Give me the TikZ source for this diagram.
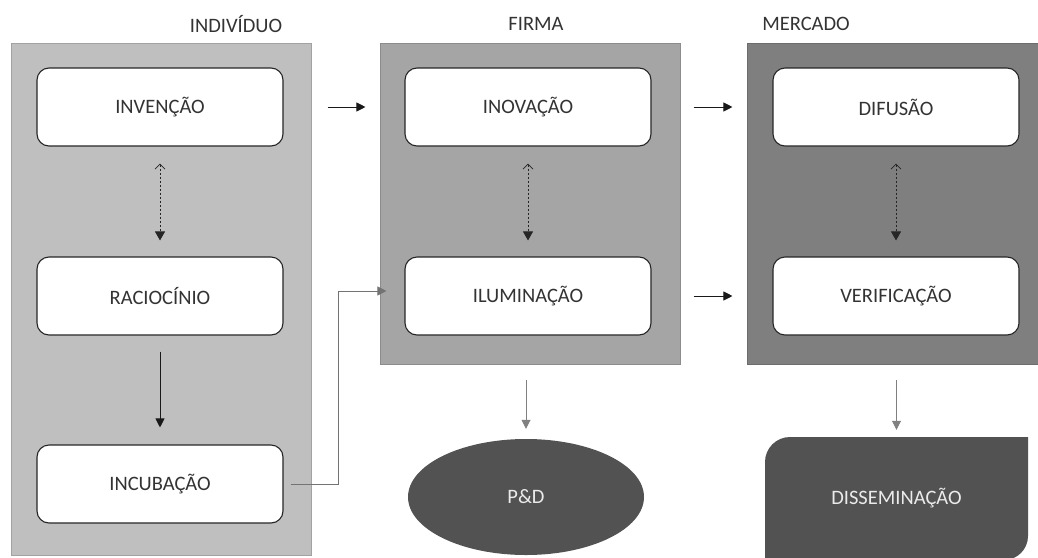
\documentclass[tikz,border=0pt]{standalone}
\usepackage{fontspec}
\setmainfont{Carlito}
\usetikzlibrary{arrows.meta,shapes.geometric,calc}
\definecolor{indcol}{HTML}{BFBFBF}
\definecolor{fircol}{HTML}{A5A5A5}
\definecolor{mercol}{HTML}{7F7F7F}
\definecolor{darkcol}{HTML}{525252}
\definecolor{txtcol}{HTML}{333333}
\newcommand\boxfont{\fontsize{20.5}{24}\selectfont}
\begin{document}
\begin{tikzpicture}[x=1pt,y=-1pt,
  panel/.style={draw=#1!85!black, line width=0.6pt, fill=#1, inner sep=0pt},
  stagebox/.style={draw=black!85, line width=1.1pt, fill=white, rounded corners=12pt,
    minimum width=246pt, minimum height=78pt, inner sep=0pt, text=txtcol, font=\boxfont},
  title/.style={text=txtcol, font=\boxfont, inner sep=0pt},
  darktext/.style={text=black!8, font=\boxfont, inner sep=0pt},
  arr/.style={-{Triangle[length=9pt,width=9pt]}, line width=0.9pt, draw=black!90},
  grayarr/.style={-{Triangle[length=9pt,width=9pt]}, line width=0.8pt, draw=black!50},
  dotarr/.style={{Straight Barb[length=5pt,width=10pt]}-{Triangle[length=9pt,width=10pt]},
    dash pattern=on 2pt off 2pt, line width=0.8pt, draw=black!85}
]
\useasboundingbox (0,0) rectangle (1038,557);
% panels
\node[panel=indcol, minimum width=300pt, minimum height=512pt] (pind) at (161,299) {};
\node[panel=fircol, minimum width=300pt, minimum height=321pt] (pfir) at (530,203.5) {};
\node[panel=mercol, minimum width=295pt, minimum height=321pt] (pmer) at (894.5,203.5) {};
% titles
\node[title] (tind) at (236,24) {INDIVÍDUO};
\node[title] (tfir) at (536,24) {FIRMA};
\node[title] (tmer) at (806,24) {MERCADO};
% stage boxes
\node[stagebox] (inv) at (160,107) {INVENÇÃO};
\node[stagebox] (rac) at (160,296) {RACIOCÍNIO};
\node[stagebox] (inc) at (160,484) {INCUBAÇÃO};
\node[stagebox] (inov) at (528,107) {INOVAÇÃO};
\node[stagebox] (ilum) at (528,296) {ILUMINAÇÃO};
\node[stagebox] (dif) at (896,107) {DIFUSÃO};
\node[stagebox] (ver) at (896,296) {VERIFICAÇÃO};
% outputs
\node[ellipse, fill=darkcol, minimum width=236pt, minimum height=116pt, inner sep=0pt,
  darktext] (pd) at (526,497) {P\&D};
\fill[darkcol] (765,562) -- (765,462) .. controls (765,448.2) and (776.2,437) .. (790,437)
  -- (1028,437) -- (1028,536) .. controls (1028,549.3) and (1017.3,560) .. (1004,560)
  -- (1004,562) -- cycle;
\node[darktext, minimum width=263pt, minimum height=123pt] (dis) at (896.5,498.5) {DISSEMINAÇÃO};
% connectors
\draw[arr, shorten <=44pt, shorten >=39pt] (inv) -- (inov);
\draw[arr, shorten <=42pt, shorten >=40pt] (inov) -- (dif);
\draw[arr, shorten <=42pt, shorten >=40pt] (ilum) -- (ver);
\draw[dotarr, shorten <=17pt, shorten >=16pt] (inv) -- (rac);
\draw[dotarr, shorten <=17pt, shorten >=16pt] (inov) -- (ilum);
\draw[dotarr, shorten <=17pt, shorten >=16pt] (dif) -- (ver);
\draw[arr, shorten <=16pt, shorten >=17pt] (rac) -- (inc);
\coordinate (elb) at (338,291);
\draw[grayarr, draw=black!55, shorten >=18pt] ([xshift=7pt]inc.east) -| (elb) -- (elb -| ilum.west);
\draw[grayarr, shorten <=16pt, shorten >=10pt] (pd.north |- pfir.south) -- (pd.north);
\draw[grayarr, shorten <=16pt, shorten >=7pt] (dis.north |- pmer.south) -- (dis.north);
\end{tikzpicture}
\end{document}
